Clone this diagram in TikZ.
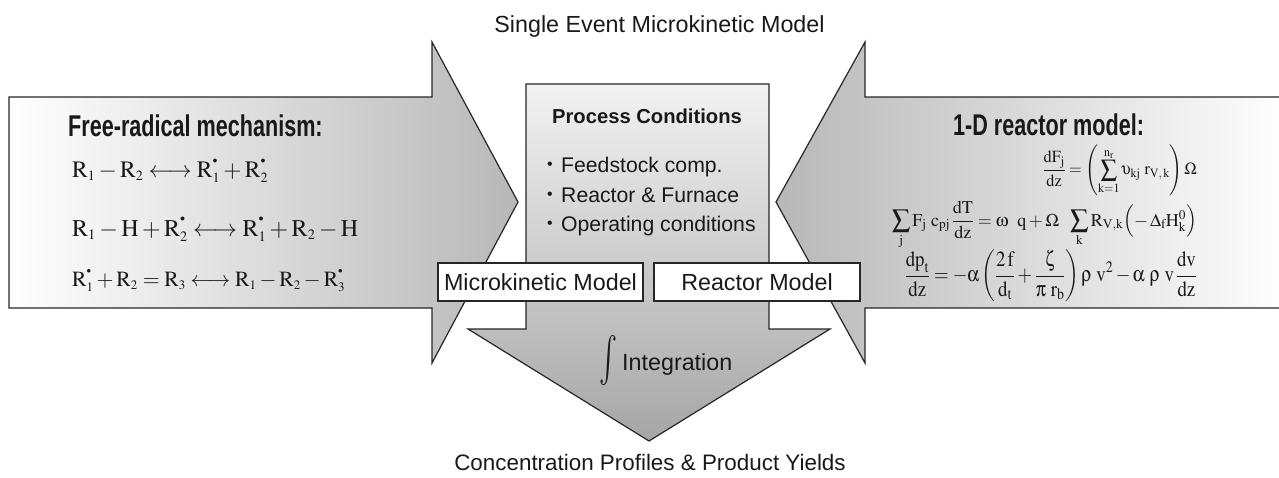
\documentclass[tikz,border=0pt]{standalone}
\usepackage{mathptmx}
\usepackage[Symbol]{upgreek}
\usepackage[no-math]{fontspec}
\setmainfont{Liberation Serif}
\setsansfont{Liberation Sans}
\usepackage{graphicx}
\newcommand\rdot{\raisebox{5pt}{\scalebox{0.7}{$\scriptscriptstyle\bullet$}}}
\newcommand\rr[1]{\mathrm{R}_{\scriptscriptstyle #1}}
\newcommand\rad[1]{\mathrm{R}^{\rdot}_{\scriptscriptstyle #1}}
\newcommand\bul{\makebox[14pt][l]{\raisebox{2.5pt}{\scalebox{0.75}{\textbullet}}}}
\newcommand\medsum{\mathop{\vcenter{\hbox{\scalebox{1.45}{$\textstyle\sum$}}}}\limits}
\begin{document}
\begin{tikzpicture}[x=1pt,y=-1pt,
  outl/.style={draw=black!85, line width=1.2pt, line join=miter},
  sans/.style={font=\fontsize{23.3}{28}\selectfont\sffamily, text=black!90, inner sep=0pt},
  bullet/.style={font=\fontsize{21.2}{26}\selectfont\sffamily, text=black!90, inner sep=0pt, anchor=base west},
  head/.style={text=black!90, inner sep=0pt, anchor=base west},
  eq/.style={font=\fontsize{22}{26}\selectfont, text=black!90, inner sep=0pt},
  modelbox/.style={sans, draw=black!85, line width=1.2pt, fill=white, minimum width=205pt, minimum height=38pt}
]
\useasboundingbox (0,0) rectangle (1279,477);

% left arrow
\shadedraw[outl, left color=white, right color=black!28]
  (9,97) -- (432,97) -- (432,42) -- (518,202) -- (432,363) -- (432,308) -- (9,308) -- cycle;
% right arrow
\shadedraw[outl, left color=black!28, right color=white]
  (1290,97) -- (865,97) -- (865,42) -- (776,202) -- (865,363) -- (865,308) -- (1290,308) -- cycle;
% down arrow
\shadedraw[outl, top color=black!5, bottom color=black!35]
  (526,84) -- (769,84) -- (769,329) -- (830,329) -- (649,441) -- (468,329) -- (526,329) -- cycle;

% titles
\node[sans, anchor=base] (title) at (659.5,32) {Single Event Microkinetic Model};
\node[sans, anchor=base, font=\fontsize{22.4}{27}\selectfont\sffamily] (result) at (650,470) {Concentration Profiles \& Product Yields};

% left panel
\node[head] (lhead) at (68,136) {\scalebox{0.72}[1]{\fontsize{30}{36}\selectfont\sffamily\bfseries Free-radical mechanism:}};
\node[eq, anchor=base west] (m1) at (72,177) {\resizebox{196pt}{!}{$\rr1 - \rr2 \longleftrightarrow \rad1 + \rad2$}};
\node[eq, anchor=base west] (m2) at (72,236) {\resizebox{286pt}{!}{$\rr1 - \mathrm{H} + \rad2 \longleftrightarrow \rad1 + \rr2 - \mathrm{H}$}};
\node[eq, anchor=base west] (m3) at (72,286) {\resizebox{273pt}{!}{$\rad1 + \rr2 = \rr3 \longleftrightarrow \rr1 - \rr2 - \rad3$}};

% right panel
\node[head] (rhead) at (953,135) {\scalebox{0.72}[1]{\fontsize{30}{36}\selectfont\sffamily\bfseries 1-D reactor model:}};
\node[eq, anchor=east] (e1) at (1197,170.5) {\resizebox*{154pt}{51pt}{$\displaystyle \frac{\mathrm{dF}_{\mathrm{j}}}{\mathrm{dz}} = \left(\sum_{\mathrm{k=1}}^{\mathrm{n_r}} \upupsilon_{\mathrm{kj}}\ \mathrm{r}_{\mathrm{V,\,k}}\right)\Omega$}};
\node[eq, anchor=base east] (e2) at (1197,226) {\resizebox{305pt}{!}{$\textstyle \medsum_{\mathrm{j}}\mathrm{F}_{\mathrm{j}}\ \mathrm{c}_{\mathrm{pj}}\,{\displaystyle\frac{\mathrm{dT}}{\mathrm{dz}}} = \upomega\ \ \mathrm{q} + \Omega\ \ \medsum_{\mathrm{k}}\mathrm{R}_{\mathrm{V,k}}\Bigl(-\,\Delta_{\mathrm{f}}\mathrm{H}_{\mathrm{k}}^{0}\Bigr)$}};
\node[eq, anchor=east] (e3) at (1197,276) {\resizebox*{292pt}{52pt}{$\displaystyle \frac{\mathrm{dp}_{\mathrm{t}}}{\mathrm{dz}} = -\upalpha\left(\frac{2\,\mathrm{f}}{\mathrm{d}_{\mathrm{t}}} + \frac{\upzeta}{\uppi\ \mathrm{r}_{\mathrm{b}}}\right)\uprho\ \mathrm{v}^{2} - \upalpha\ \uprho\ \mathrm{v}\,\frac{\mathrm{dv}}{\mathrm{dz}}$}};

% process conditions
\node[anchor=base, inner sep=0pt, text=black!90, font=\fontsize{20.2}{24}\selectfont\sffamily\bfseries] (pc) at (647,123) {Process Conditions};
\node[bullet] (b1) at (547,172) {\bul Feedstock comp.};
\node[bullet] (b2) at (547,202) {\bul Reactor \& Furnace};
\node[bullet] (b3) at (547,231) {\bul Operating conditions};

% model boxes
\node[modelbox] (mk) at (540.5,282) {Microkinetic Model};
\node[modelbox, minimum width=206pt] (rm) at (757,282) {Reactor Model};

% integration
\node[inner sep=0pt, text=black!90] (int) at (608,360) {\resizebox*{18pt}{50pt}{$\int$}};
\node[sans, anchor=base west] (integ) at (622,370) {Integration};
\end{tikzpicture}
\end{document}
